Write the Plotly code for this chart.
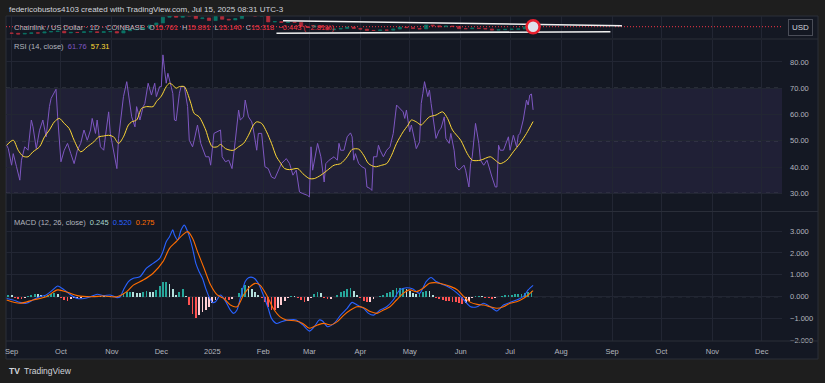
import pandas as pd
import plotly.graph_objects as go

BASE = pd.Timestamp("2024-09-01")

# ---------------- data (day offsets from 2024-09-01) ----------------
rsi_day = [-3, -2, 0, 1, 3, 5, 6, 8, 10, 12, 13, 15, 17, 19, 21, 23, 24, 27, 28, 30,
           32, 34, 36, 38, 40, 42, 44, 46, 48, 49, 51, 52, 54, 56, 57, 59, 60, 62, 64, 65,
           67, 68, 70, 71, 73, 75, 76, 78, 80, 81, 83, 85, 87, 88, 90, 91, 92, 93, 94, 95,
           96, 98, 99, 100, 102, 103, 105, 107, 108, 110, 111, 113, 115, 118, 120, 121, 123, 125, 127, 128,
           130, 132, 134, 136, 138, 139, 141, 142, 144, 146, 147, 149, 150, 152, 154, 156, 158, 160, 162, 164,
           166, 167, 169, 171, 173, 175, 177, 180, 181, 182, 183, 185, 186, 188, 190, 191, 193, 196, 198, 199,
           200, 202, 204, 206, 207, 208, 209, 211, 213, 215, 216, 218, 219, 220, 222, 223, 224, 226, 228, 230,
           232, 234, 236, 238, 239, 240, 242, 243, 245, 246, 248, 249, 250, 251, 253, 254, 255, 256, 257, 258,
           260, 261, 263, 264, 266, 267, 269, 270, 272, 275, 276, 278, 279, 280, 282, 284, 285, 287, 289, 290,
           292, 294, 295, 296, 297, 299, 300, 302, 303, 305, 307, 308, 309, 311, 313, 314, 315, 316, 317]
rsi_val = [48.3, 47.0, 40.7, 45.1, 40.1, 35.0, 42.6, 47.7, 46.4, 57.9, 55.3, 47.0, 54.0, 57.9, 51.5, 63.0, 66.1, 69.6, 59.1, 42.0,
           46.4, 49.0, 45.1, 41.3, 46.4, 49.0, 54.1, 50.2, 54.1, 58.5, 52.8, 57.9, 47.7, 46.4, 51.5, 61.0, 52.8, 46.4, 39.4, 50.9,
           61.7, 66.8, 72.5, 68.0, 59.1, 55.3, 63.0, 57.9, 63.0, 64.2, 71.9, 67.4, 71.9, 66.8, 70.6, 70.6, 82.7, 77.0, 71.9, 75.7,
           73.1, 68.0, 57.9, 57.6, 68.0, 70.6, 70.6, 63.0, 50.2, 47.7, 50.2, 56.0, 49.0, 43.9, 43.9, 40.7, 52.8, 53.4, 54.1, 43.9,
           42.0, 42.6, 39.4, 50.2, 61.7, 57.9, 59.1, 65.5, 59.1, 57.2, 54.1, 46.4, 52.8, 52.8, 40.1, 39.4, 36.2, 35.6, 38.2, 41.3,
           42.6, 43.2, 41.3, 36.9, 38.8, 30.5, 29.9, 29.2, 28.6, 47.7, 38.8, 45.8, 49.0, 43.9, 34.3, 41.3, 42.6, 43.9, 42.6, 49.0,
           46.4, 46.4, 51.5, 53.0, 51.5, 42.6, 45.1, 41.3, 40.1, 39.4, 32.4, 31.8, 31.1, 43.9, 43.9, 48.3, 46.4, 43.9, 46.4, 47.7,
           52.8, 63.6, 62.3, 61.0, 58.5, 61.7, 53.4, 56.0, 50.2, 47.0, 49.6, 64.2, 68.0, 72.5, 66.8, 69.3, 64.2, 59.1, 54.1, 50.9,
           54.1, 54.7, 59.1, 50.9, 49.0, 52.8, 46.4, 40.1, 38.8, 40.7, 38.8, 32.4, 41.3, 43.9, 56.6, 49.0, 42.6, 40.7, 42.6, 40.1,
           36.2, 32.4, 32.4, 48.3, 46.4, 46.4, 48.3, 51.5, 46.4, 52.1, 47.7, 52.1, 52.8, 57.9, 65.5, 63.6, 67.4, 67.8, 61.76]

ma_day = [-3, 1, 4, 7, 10, 13, 17, 20, 23, 26, 29, 32, 35, 38, 42, 46, 50, 53, 56, 59,
          62, 65, 68, 71, 73, 76, 79, 82, 86, 88, 91, 94, 96, 98, 100, 102, 105, 107, 109, 111,
          114, 118, 120, 122, 125, 127, 130, 133, 135, 138, 141, 144, 147, 149, 152, 155, 158, 161, 163, 166,
          169, 174, 177, 181, 184, 188, 192, 196, 200, 204, 207, 211, 214, 217, 221, 225, 228, 231, 234, 238,
          241, 243, 246, 249, 251, 254, 258, 262, 265, 268, 273, 277, 280, 285, 291, 294, 297, 301, 305, 309,
          313, 317]
ma_val = [48.3, 50.2, 46.4, 44.1, 43.9, 45.8, 47.7, 51.5, 54.1, 57.2, 58.5, 56.6, 54.7, 50.2, 45.8, 47.7, 49.6, 51.5, 51.8, 52.1,
          51.5, 49.0, 51.5, 56.0, 57.2, 57.9, 62.3, 63.0, 63.0, 64.9, 67.0, 70.6, 71.9, 71.2, 70.0, 70.6, 70.6, 68.0, 64.2, 60.4,
          59.1, 54.1, 50.2, 47.7, 47.7, 48.6, 47.0, 46.4, 46.4, 47.7, 49.0, 52.1, 56.0, 57.2, 56.6, 53.4, 49.0, 43.9, 42.0, 39.4,
          39.0, 39.4, 37.5, 35.6, 35.6, 36.9, 38.8, 40.7, 41.3, 43.9, 46.7, 46.8, 44.5, 41.3, 40.1, 40.7, 41.3, 44.5, 49.0, 53.4,
          56.0, 57.9, 57.2, 56.0, 57.2, 59.1, 59.8, 61.0, 58.5, 54.1, 50.2, 45.1, 42.6, 42.6, 43.9, 42.6, 41.3, 42.6, 45.8, 49.0,
          52.8, 57.31]

macd_day = [-3, 1, 5, 9, 13, 17, 21, 25, 28, 32, 36, 40, 44, 48, 52, 56, 60, 64, 66, 68,
            71, 74, 78, 82, 86, 90, 92, 94, 96, 98, 99, 101, 103, 105, 107, 110, 112, 114, 116, 118,
            120, 122, 124, 127, 130, 133, 135, 137, 139, 142, 144, 147, 150, 153, 156, 158, 161, 164, 169, 173,
            177, 181, 184, 187, 189, 192, 196, 200, 204, 207, 210, 214, 217, 220, 224, 228, 232, 236, 240, 244,
            248, 252, 255, 258, 263, 267, 271, 275, 279, 283, 287, 291, 295, 299, 303, 307, 311, 314, 317]
macd_val = [-0.08, -0.15, -0.26, -0.30, -0.15, 0.00, 0.08, 0.31, 0.49, 0.31, 0.08, -0.08, -0.08, 0.00, 0.11, 0.05, 0.08, -0.04, 0.00, 0.31,
            0.69, 0.84, 0.91, 1.30, 1.52, 1.75, 2.06, 2.51, 2.74, 3.05, 2.82, 2.59, 3.05, 3.27, 2.97, 2.21, 1.52, 1.14, 0.84, 0.38,
            0.00, -0.26, -0.23, 0.08, -0.20, -0.61, -0.76, -0.61, -0.08, 0.69, 0.87, 0.87, 0.61, 0.08, -0.53, -0.99, -1.22, -1.14, -1.06, -1.06,
            -1.29, -1.57, -1.37, -1.06, -1.11, -1.37, -1.22, -0.84, -0.53, -0.26, -0.38, -0.53, -0.76, -0.84, -0.61, -0.46, -0.15, 0.31, 0.41, 0.35,
            0.15, 0.69, 0.88, 0.69, 0.53, 0.38, 0.15, -0.15, -0.46, -0.46, -0.30, -0.46, -0.65, -0.38, -0.26, -0.15, 0.00, 0.31, 0.520]

signal_day = [-3, 5, 13, 21, 28, 34, 40, 48, 56, 64, 70, 74, 80, 86, 92, 96, 100, 104, 107, 110,
              113, 117, 121, 125, 129, 133, 137, 141, 145, 148, 151, 155, 159, 163, 167, 173, 177, 181, 186, 190,
              194, 198, 202, 206, 210, 214, 218, 222, 226, 230, 234, 238, 242, 246, 250, 254, 258, 263, 267, 271,
              275, 279, 283, 287, 291, 295, 299, 303, 307, 311, 314, 317]
signal_val = [-0.15, -0.30, -0.15, 0.00, 0.31, 0.20, 0.05, 0.00, 0.03, 0.00, 0.23, 0.53, 0.76, 1.07, 1.60, 2.21, 2.51, 2.82, 2.97, 2.67,
              2.06, 1.30, 0.53, 0.08, -0.08, -0.38, -0.46, 0.08, 0.46, 0.61, 0.53, 0.08, -0.53, -0.91, -1.06, -1.11, -1.22, -1.44, -1.29, -1.22,
              -1.29, -1.14, -0.84, -0.61, -0.46, -0.50, -0.68, -0.76, -0.61, -0.46, -0.15, 0.15, 0.31, 0.23, 0.38, 0.61, 0.64, 0.56, 0.46, 0.31,
              0.00, -0.26, -0.35, -0.38, -0.46, -0.53, -0.46, -0.30, -0.23, -0.08, 0.08, 0.275]

hist_day = list(range(-2, 317, 2))
hist_val = [0.08, 0.06, -0.05, -0.10, -0.10, -0.05, 0.02, 0.10, 0.14, 0.12,
            0.08, 0.08, 0.10, 0.13, 0.15, 0.12, -0.05, -0.15, -0.18, -0.12,
            -0.08, -0.06, -0.05, -0.02, 0.02, 0.04, 0.05, 0.04, 0.02, 0.01,
            0.03, 0.02, -0.03, -0.05, 0.05, 0.15, 0.22, 0.22, 0.20, 0.17,
            0.15, 0.20, 0.24, 0.22, 0.20, 0.30, 0.50, 0.65, 0.65, 0.58,
            0.35, 0.10, 0.20, 0.35, 0.05, -0.40, -0.80, -0.95, -0.85, -0.72,
            -0.60, -0.45, -0.30, -0.15, 0.00, -0.05, -0.10, -0.15, -0.10, 0.00,
            0.15, 0.40, 0.55, 0.50, 0.35, 0.20, 0.08, -0.05, -0.25, -0.45,
            -0.62, -0.62, -0.50, -0.38, -0.20, -0.05, 0.02, 0.01, -0.05, -0.15,
            -0.22, -0.20, -0.05, 0.12, 0.20, 0.15, -0.05, -0.12, -0.10, -0.03,
            0.10, 0.20, 0.28, 0.35, 0.38, 0.25, 0.08, -0.08, -0.18, -0.25,
            -0.22, -0.12, -0.02, 0.05, 0.10, 0.15, 0.22, 0.30, 0.38, 0.40,
            0.40, 0.36, 0.25, 0.15, 0.12, 0.15, 0.22, 0.28, 0.25, 0.10,
            -0.05, -0.12, -0.15, -0.18, -0.20, -0.22, -0.25, -0.30, -0.34, -0.30,
            -0.20, -0.08, 0.03, 0.05, 0.02, -0.05, -0.08, -0.10, -0.08, -0.03,
            0.03, 0.07, 0.09, 0.10, 0.11, 0.12, 0.14, 0.17, 0.20, 0.245]

price_day = list(range(0, 317, 4))
price_close = [10.3, 9.7, 10.2, 10.6, 10.5, 11.3, 11.6, 11.9, 10.6, 11.0,
               10.9, 11.4, 11.5, 10.9, 11.5, 11.6, 10.5, 12.2, 13.0, 13.2,
               14.2, 16.5, 18.2, 22.5, 25.0, 22.5, 28.0, 23.5, 21.5, 22.0,
               20.0, 23.0, 21.0, 20.5, 21.5, 25.0, 24.5, 23.5, 24.5, 19.0,
               19.2, 18.5, 18.8, 18.5, 15.5, 15.0, 16.0, 14.8, 13.0, 13.5,
               14.0, 15.0, 14.0, 13.5, 12.5, 12.4, 12.8, 12.7, 13.5, 15.0,
               14.6, 14.0, 13.6, 16.6, 16.0, 15.3, 15.8, 15.5, 13.8, 13.8,
               14.2, 14.0, 13.6, 12.8, 13.0, 13.3, 13.4, 13.6, 15.3, 15.318]
price_first_open = 10.5
last_close = 15.318

trend_upper_day = [165, 371]
trend_upper_price = [19.9, 16.1]
trend_lower_day = [161, 364]
trend_lower_price = [10.3, 11.5]

month_ticks = ["2024-09-01", "2024-10-01", "2024-11-01", "2024-12-01", "2025-01-01", "2025-02-01",
               "2025-03-01", "2025-04-01", "2025-05-01", "2025-06-01", "2025-07-01", "2025-08-01",
               "2025-09-01", "2025-10-01", "2025-11-01", "2025-12-01"]
month_labels = ["Sep", "Oct", "Nov", "Dec", "2025", "Feb", "Mar", "Apr", "May", "Jun", "Jul", "Aug",
                "Sep", "Oct", "Nov", "Dec"]
rsi_ticks = [30, 40, 50, 60, 70, 80]
rsi_labels = ["30.00", "40.00", "50.00", "60.00", "70.00", "80.00"]
macd_ticks = [-2, -1, 0, 1, 2, 3]
macd_labels = ["\u22122.000", "\u22121.000", "0.000", "1.000", "2.000", "3.000"]

header_text = "federicobustos4103 created with TradingView.com, Jul 15, 2025 08:31 UTC-3"


def to_dates(days):
    return [BASE + pd.Timedelta(days=float(v)) for v in days]


# ---------------- styles ----------------
OUTER_BG = "#1e1e1e"
PANEL_BG = "#141823"
GRID = "#222633"
SEP = "#2a2e39"
LBL = "#b2b5be"
UP = "#089981"
DN = "#f23645"
RSI_C = "#7e57c2"
MA_C = "#fdd835"
MACD_C = "#2962ff"
SIG_C = "#ff6d00"
FONT = "Liberation Sans, Arial, sans-serif"

W, H = 825, 383
ML, MR, MT, MB = 6, 43, 16, 42
PW = W - ML - MR
PH = H - MT - MB


def px(xp):
    return (xp - ML) / PW


def py(yp):
    return (H - MB - yp) / PH


# candles
opens = [price_first_open] + price_close[:-1]
highs = [max(o, c) for o, c in zip(opens, price_close)]
lows = [min(o, c) for o, c in zip(opens, price_close)]

# histogram colours (TradingView scheme)
hist_colors = []
prev = None
for h in hist_val:
    if h >= 0:
        c = "#26a69a" if (prev is None or h >= prev) else "#b2dfdb"
    else:
        c = "#ff5252" if (prev is None or h <= prev) else "#ffcdd2"
    hist_colors.append(c)
    prev = h

fig = go.Figure()

fig.add_trace(go.Candlestick(
    x=to_dates(price_day), open=opens, high=highs, low=lows, close=price_close,
    xaxis="x", yaxis="y",
    increasing=dict(line=dict(color=UP, width=0.7), fillcolor=UP),
    decreasing=dict(line=dict(color=DN, width=0.7), fillcolor=DN),
    whiskerwidth=0, opacity=0.7, showlegend=False, hoverinfo="skip"))

for d_, p_ in ((trend_upper_day, trend_upper_price), (trend_lower_day, trend_lower_price)):
    fig.add_trace(go.Scatter(x=to_dates(d_), y=p_, mode="lines", xaxis="x", yaxis="y",
                             line=dict(color="#f0f0f0", width=1.6), showlegend=False, hoverinfo="skip"))

fig.add_trace(go.Scatter(x=to_dates([rsi_day[-1]]), y=[last_close], mode="markers", xaxis="x", yaxis="y",
                         marker=dict(symbol="circle", size=13, color="#dfe2ec",
                                     line=dict(color="#e8212f", width=2.5)),
                         showlegend=False, hoverinfo="skip"))

fig.add_trace(go.Scatter(x=to_dates(rsi_day), y=rsi_val, mode="lines", xaxis="x", yaxis="y2",
                         line=dict(color=RSI_C, width=1), showlegend=False, hoverinfo="skip"))
fig.add_trace(go.Scatter(x=to_dates(ma_day), y=ma_val, mode="lines", xaxis="x", yaxis="y2",
                         line=dict(color=MA_C, width=1, shape="spline", smoothing=0.8),
                         showlegend=False, hoverinfo="skip"))

fig.add_trace(go.Bar(x=to_dates(hist_day), y=hist_val, xaxis="x", yaxis="y3",
                     width=1.1 * 86400000, marker=dict(color=hist_colors, line=dict(width=0)),
                     showlegend=False, hoverinfo="skip"))
fig.add_trace(go.Scatter(x=to_dates(macd_day), y=macd_val, mode="lines", xaxis="x", yaxis="y3",
                         line=dict(color=MACD_C, width=1.1, shape="spline", smoothing=0.7),
                         showlegend=False, hoverinfo="skip"))
fig.add_trace(go.Scatter(x=to_dates(signal_day), y=signal_val, mode="lines", xaxis="x", yaxis="y3",
                         line=dict(color=SIG_C, width=1.1, shape="spline", smoothing=0.8),
                         showlegend=False, hoverinfo="skip"))

x_range = [BASE + pd.Timedelta(days=-3.4), BASE + pd.Timedelta(days=468.3)]

shapes = [
    dict(type="rect", xref="paper", yref="paper", x0=0, x1=px(818), y0=py(359), y1=1.0,
         fillcolor=PANEL_BG, line=dict(color=SEP, width=1), layer="below"),
    dict(type="rect", xref="paper", yref="y2", x0=0, x1=1, y0=30, y1=70,
         fillcolor="rgba(126,87,194,0.12)", line=dict(width=0), layer="below"),
]
for lv in (70, 50, 30):
    shapes.append(dict(type="line", xref="paper", yref="y2", x0=0, x1=1, y0=lv, y1=lv,
                       line=dict(color="rgba(120,123,134,0.75)", width=1, dash="4px,4px"), layer="below"))
shapes.append(dict(type="line", xref="paper", yref="y3", x0=0, x1=1, y0=0, y1=0,
                   line=dict(color="rgba(120,123,134,0.6)", width=1, dash="4px,4px"), layer="below"))
shapes.append(dict(type="line", xref="paper", yref="y", x0=0, x1=1, y0=last_close, y1=last_close,
                   line=dict(color=DN, width=1, dash="1px,2px"), layer="below"))
for yy in (39, 211.5, 341):
    shapes.append(dict(type="line", xref="paper", yref="paper", x0=0, x1=px(818), y0=py(yy), y1=py(yy),
                       line=dict(color=SEP, width=1), layer="above"))

small = dict(family=FONT, size=7.5, color=LBL)

annotations = [
    dict(text=header_text, xref="paper", yref="paper", x=px(7), y=py(9), xanchor="left", yanchor="middle",
         showarrow=False, font=dict(family=FONT, size=8, color="#d1d4dc")),
    dict(text=("Chainlink / US Dollar \u00b7 1D \u00b7 COINBASE\u00a0 O<span style='color:#f23645'>15.761</span>"
               "\u00a0 H<span style='color:#f23645'>15.891</span>\u00a0 L<span style='color:#f23645'>15.140</span>"
               "\u00a0 C<span style='color:#f23645'>15.318</span>\u00a0 <span style='color:#f23645'>\u22120.443 (\u22122.81%)</span>"),
         xref="paper", yref="paper", x=px(12), y=py(27), xanchor="left", yanchor="middle",
         showarrow=False, font=dict(family=FONT, size=7.5, color=LBL)),
    dict(text="RSI (14, close)\u00a0 <span style='color:#7e57c2'>61.76</span>\u00a0 <span style='color:#fdd835'>57.31</span>",
         xref="paper", yref="paper", x=px(12), y=py(46.5), xanchor="left", yanchor="middle",
         showarrow=False, font=small),
    dict(text=("MACD (12, 26, close)\u00a0 <span style='color:#a8d8cf'>0.245</span>\u00a0 "
               "<span style='color:#2962ff'>0.520</span>\u00a0 <span style='color:#ff6d00'>0.275</span>"),
         xref="paper", yref="paper", x=px(12), y=py(222), xanchor="left", yanchor="middle",
         showarrow=False, font=small),
    dict(text="USD", xref="paper", yref="paper", x=px(801), y=py(27.5), xanchor="center", yanchor="middle",
         showarrow=False, font=dict(family=FONT, size=8, color="#d1d4dc"),
         bgcolor="#131722", bordercolor="#4a4d58", borderwidth=1, borderpad=3),
    dict(text="<b>TV</b>", xref="paper", yref="paper", x=px(7), y=py(371), xanchor="left", yanchor="middle",
         showarrow=False, font=dict(family=FONT, size=8.5, color="#d1d4dc")),
    dict(text="TradingView", xref="paper", yref="paper", x=px(22), y=py(371), xanchor="left", yanchor="middle",
         showarrow=False, font=dict(family=FONT, size=8.5, color="#d1d4dc")),
]

fig.update_layout(
    width=W, height=H,
    margin=dict(l=ML, r=MR, t=MT, b=MB, pad=0),
    paper_bgcolor=OUTER_BG, plot_bgcolor="rgba(0,0,0,0)",
    font=dict(family=FONT, color=LBL),
    showlegend=False, bargap=0,
    shapes=shapes, annotations=annotations,
    xaxis=dict(type="date", range=x_range, domain=[0, 1], anchor="y3",
               tickvals=month_ticks, ticktext=month_labels, tickfont=small,
               showgrid=True, gridcolor=GRID, gridwidth=1, zeroline=False, showline=False,
               ticks="", ticklabelstandoff=4, rangeslider=dict(visible=False), fixedrange=True),
    yaxis=dict(domain=[py(38), 1.0], range=[6.69, 23.49], anchor="x", side="right",
               showgrid=False, zeroline=False, showticklabels=False, ticks=""),
    yaxis2=dict(domain=[py(211), py(40)], range=[23.26, 88.36], anchor="x", side="right",
                tickvals=rsi_ticks, ticktext=rsi_labels, tickfont=small,
                showgrid=True, gridcolor=GRID, gridwidth=1, zeroline=False, ticks="",
                ticklabelstandoff=7),
    yaxis3=dict(domain=[0, py(212)], range=[-2.023, 3.868], anchor="x", side="right",
                tickvals=macd_ticks, ticktext=macd_labels, tickfont=small,
                showgrid=True, gridcolor=GRID, gridwidth=1, zeroline=False, ticks="",
                ticklabelstandoff=7),
)

fig.write_html("out.html", config={"displayModeBar": False, "staticPlot": True},
               post_script="document.body.style.margin='0';document.body.style.background='#1e1e1e';")
